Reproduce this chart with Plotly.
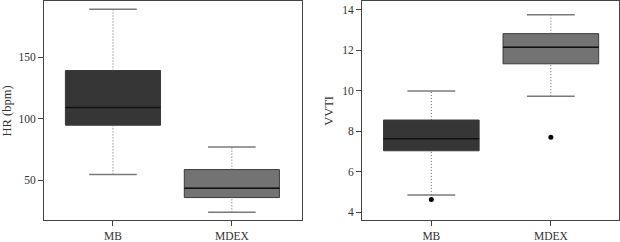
import plotly.graph_objects as go

groups = ["MB", "MDEX"]
pos = [0, 1]

# Panel 1: HR (bpm)
hr_lower = [54.8, 24.0]
hr_q1 = [94.7, 36.0]
hr_median = [109.0, 43.6]
hr_q3 = [139.1, 58.7]
hr_upper = [188.9, 77.0]
hr_out_x = []
hr_out_y = []

# Panel 2: VVTI
vv_lower = [4.86, 9.74]
vv_q1 = [7.04, 11.34]
vv_median = [7.63, 12.16]
vv_q3 = [8.56, 12.83]
vv_upper = [10.0, 13.76]
vv_out_x = [0, 1]
vv_out_y = [4.63, 7.71]

fills = ["#363636", "#737373"]
box_w = 0.8
cap_half = 0.2
font_serif = "Liberation Serif"

fig = go.Figure()


def add_panel(xa, ya, lower, q1, med, q3, upper, ox, oy):
    for i, g in enumerate(groups):
        fig.add_trace(go.Box(
            x=[pos[i]], q1=[q1[i]], median=[med[i]], q3=[q3[i]],
            lowerfence=[q1[i]], upperfence=[q3[i]],
            width=box_w, whiskerwidth=0,
            fillcolor=fills[i], line=dict(color="#3a3a3a", width=1),
            xaxis=xa, yaxis=ya, showlegend=False, hoverinfo="skip",
        ))
        # whiskers (dotted)
        for a, b in ((q3[i], upper[i]), (lower[i], q1[i])):
            fig.add_trace(go.Scatter(
                x=[pos[i], pos[i]], y=[a, b], mode="lines",
                line=dict(color="#666666", width=1, dash="1px,2px"),
                xaxis=xa, yaxis=ya, showlegend=False, hoverinfo="skip",
            ))
        # caps
        for v in (upper[i], lower[i]):
            fig.add_trace(go.Scatter(
                x=[pos[i] - cap_half, pos[i] + cap_half], y=[v, v], mode="lines",
                line=dict(color="#7a7a7a", width=1.5),
                xaxis=xa, yaxis=ya, showlegend=False, hoverinfo="skip",
            ))
        # median
        fig.add_trace(go.Scatter(
            x=[pos[i] - box_w / 2, pos[i] + box_w / 2], y=[med[i], med[i]], mode="lines",
            line=dict(color="#111111", width=1.5),
            xaxis=xa, yaxis=ya, showlegend=False, hoverinfo="skip",
        ))
    if ox:
        fig.add_trace(go.Scatter(
            x=ox, y=oy, mode="markers",
            marker=dict(color="black", size=5),
            xaxis=xa, yaxis=ya, showlegend=False, hoverinfo="skip",
        ))


add_panel("x", "y", hr_lower, hr_q1, hr_median, hr_q3, hr_upper, hr_out_x, hr_out_y)
add_panel("x2", "y2", vv_lower, vv_q1, vv_median, vv_q3, vv_upper, vv_out_x, vv_out_y)

axis_common = dict(
    showline=True, mirror=True, linecolor="#444444", linewidth=1,
    showgrid=False, zeroline=False, ticks="outside", ticklen=5,
    tickcolor="#444444", tickfont=dict(family=font_serif, size=11.5, color="#333333"),
)

ydom = [(242 - 224) / 242, 1 - 0.5 / 242]
title_font = dict(family=font_serif, size=12.5, color="#333333")

fig.update_layout(
    width=620, height=242,
    margin=dict(l=0, r=0, t=0, b=0),
    paper_bgcolor="white", plot_bgcolor="white",
    xaxis=dict(domain=[44 / 620, 302 / 620], range=[-0.58, 1.59],
               tickvals=pos, ticktext=groups, anchor="y", **axis_common),
    yaxis=dict(domain=ydom, range=[17.5, 195.1], tickvals=[50, 100, 150],
               anchor="x",
               title=dict(text="HR (bpm)", font=title_font, standoff=4),
               **axis_common),
    xaxis2=dict(domain=[362 / 620, 619 / 620], range=[-0.58, 1.57],
                tickvals=pos, ticktext=groups, anchor="y2", **axis_common),
    yaxis2=dict(domain=ydom, range=[3.6, 14.42], tickvals=[4, 6, 8, 10, 12, 14],
                anchor="x2",
                title=dict(text="VVTI", font=title_font, standoff=5),
                **axis_common),
)

fig.write_html("out.html")
